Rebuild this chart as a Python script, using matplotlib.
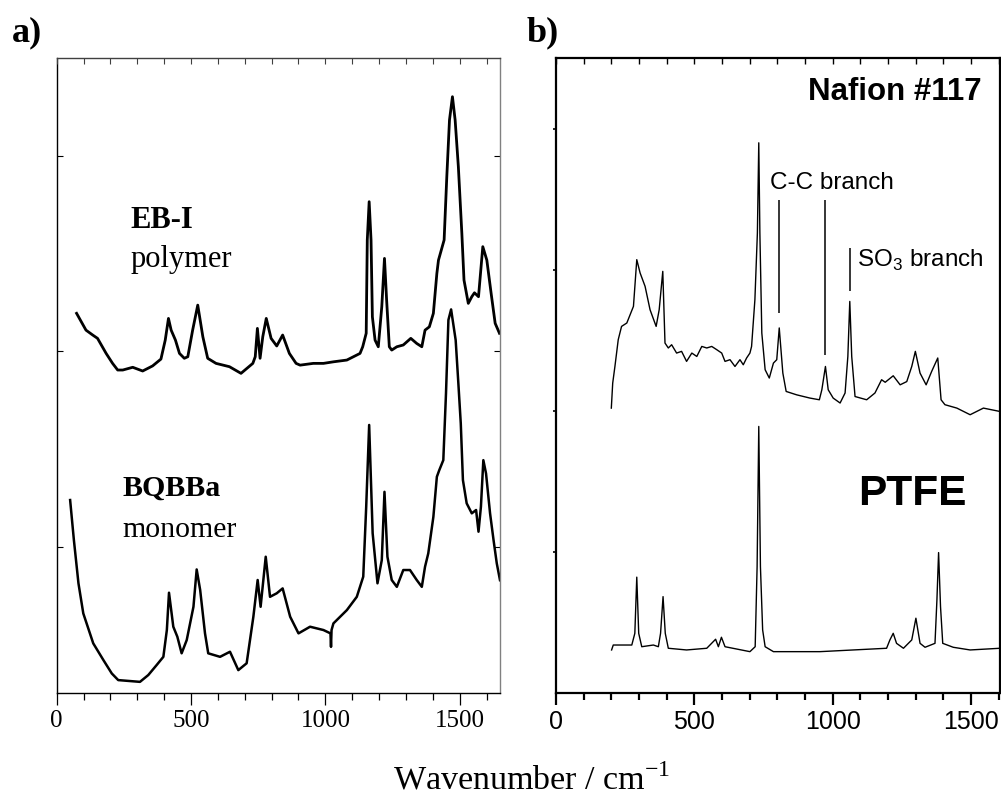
import numpy as np
import matplotlib.pyplot as plt
from matplotlib.ticker import MultipleLocator

# ---- panel a: EB-I polymer (upper trace) ----
wn_ebi = [74, 109, 134, 152, 184, 208, 227, 246, 283, 320, 357, 388, 404, 416, 426,
          442, 457, 475, 488, 506, 525, 544, 562, 593, 643, 686, 730, 739, 747, 757,
          767, 780, 798, 819, 841, 866, 891, 906, 955, 993, 1030, 1080, 1129, 1139,
          1152, 1156, 1163, 1170, 1175, 1185, 1197, 1210, 1220, 1228, 1238, 1247,
          1266, 1290, 1318, 1340, 1359, 1371, 1387, 1402, 1415, 1421, 1442, 1452,
          1462, 1473, 1483, 1495, 1508, 1516, 1532, 1545, 1555, 1570, 1586, 1601,
          1617, 1632, 1648]
int_ebi = [1.194, 1.108, 1.083, 1.066, 0.989, 0.938, 0.904, 0.904, 0.918, 0.899,
           0.925, 0.960, 1.057, 1.168, 1.108, 1.057, 0.989, 0.964, 0.972, 1.108,
           1.236, 1.074, 0.964, 0.938, 0.921, 0.887, 0.938, 0.972, 1.117, 0.964,
           1.074, 1.168, 1.066, 1.027, 1.083, 0.989, 0.938, 0.929, 0.938, 0.938,
           0.946, 0.955, 0.989, 1.023, 1.092, 1.569, 1.765, 1.569, 1.176, 1.057,
           1.023, 1.228, 1.475, 1.262, 1.023, 1.006, 1.023, 1.032, 1.066, 1.040,
           1.023, 1.108, 1.125, 1.194, 1.398, 1.466, 1.569, 1.893, 2.183, 2.302,
           2.183, 1.944, 1.603, 1.364, 1.245, 1.279, 1.299, 1.279, 1.535, 1.466,
           1.296, 1.143, 1.092]

# ---- panel a: BQBBa monomer (lower trace) ----
wn_bqb = [50, 64, 81, 99, 136, 174, 205, 229, 310, 341, 372, 397, 410, 418, 434,
          449, 465, 484, 509, 521, 534, 552, 564, 608, 645, 676, 707, 732, 748, 759,
          778, 794, 819, 841, 869, 900, 943, 993, 1019, 1021, 1023, 1030, 1080,
          1117, 1141, 1152, 1163, 1176, 1194, 1210, 1220, 1231, 1247, 1266, 1290,
          1315, 1340, 1359, 1371, 1383, 1402, 1415, 1424, 1439, 1449, 1458, 1468,
          1485, 1495, 1504, 1512, 1526, 1545, 1561, 1570, 1579, 1588, 1598, 1613,
          1626, 1638, 1650]
int_bqb = [0.239, 0.034, -0.187, -0.341, -0.494, -0.580, -0.648, -0.682, -0.691,
           -0.656, -0.605, -0.563, -0.426, -0.235, -0.409, -0.460, -0.545, -0.477,
           -0.307, -0.116, -0.221, -0.443, -0.545, -0.563, -0.537, -0.631, -0.596,
           -0.358, -0.170, -0.307, -0.051, -0.256, -0.238, -0.213, -0.358, -0.443,
           -0.409, -0.426, -0.443, -0.512, -0.426, -0.392, -0.324, -0.256, -0.153,
           0.205, 0.623, 0.069, -0.187, -0.068, 0.281, -0.051, -0.170, -0.205,
           -0.119, -0.119, -0.170, -0.205, -0.102, -0.034, 0.153, 0.358, 0.392,
           0.443, 0.785, 1.160, 1.214, 1.057, 0.836, 0.631, 0.341, 0.222, 0.171,
           0.188, 0.077, 0.205, 0.443, 0.375, 0.171, 0.034, -0.085, -0.171]

# ---- panel b: Nafion #117 ----
wn_naf = [200, 205, 213, 225, 237, 256, 280, 292, 304, 322, 340, 362, 373, 386, 394,
          406, 418, 436, 454, 472, 491, 509, 527, 545, 563, 581, 599, 611, 629, 647,
          665, 677, 689, 701, 707, 719, 728, 733, 737, 744,
          756, 771, 786, 798, 807, 820, 832, 870, 918, 952, 961, 974, 984, 1002,
          1027, 1045, 1055, 1062, 1069, 1081, 1123, 1153, 1177, 1190, 1219, 1244,
          1268, 1286, 1299, 1316, 1338, 1358, 1380, 1392, 1406, 1449, 1497, 1545,
          1605]
int_naf = [2.019, 2.196, 2.314, 2.504, 2.598, 2.622, 2.740, 3.071, 2.977, 2.882,
           2.716, 2.598, 2.716, 2.988, 2.480,
           2.445, 2.468, 2.409, 2.421, 2.350, 2.409, 2.385, 2.456, 2.445, 2.456,
           2.433, 2.409, 2.350, 2.362, 2.314, 2.362, 2.326, 2.374, 2.409,
           2.456, 2.787, 3.260, 3.899, 3.260, 2.551,
           2.291, 2.232, 2.338, 2.362, 2.587, 2.267, 2.137, 2.113, 2.090, 2.078,
           2.149, 2.314, 2.149, 2.090, 2.055, 2.126, 2.385, 2.775, 2.385, 2.101,
           2.078, 2.126, 2.220, 2.202, 2.248, 2.184, 2.207, 2.314, 2.421, 2.267,
           2.184, 2.279, 2.374, 2.078, 2.043, 2.019, 1.972, 2.019, 1.995]

# ---- panel b: PTFE ----
wn_ptfe = [201, 207, 274, 285, 292, 299, 310, 352, 370, 378, 387, 395, 406, 472, 545,
           577, 587, 598, 611, 701, 720, 727, 733, 739, 747, 756, 786, 954, 1195,
           1207, 1219, 1231, 1256, 1286, 1301, 1316, 1334, 1370, 1377, 1383, 1390,
           1398, 1436, 1497, 1605]
int_ptfe = [0.305, 0.340, 0.340, 0.423, 0.821, 0.423, 0.328, 0.340, 0.328, 0.423,
            0.683, 0.423, 0.317, 0.305, 0.317, 0.381, 0.328, 0.395, 0.328, 0.293,
            0.328, 0.896, 1.889, 0.896, 0.447, 0.328, 0.293, 0.293, 0.317, 0.376,
            0.423, 0.352, 0.317, 0.376, 0.530, 0.352, 0.324, 0.352, 0.660, 0.995,
            0.612, 0.352, 0.324, 0.305, 0.317]

# branch marker lines in panel b: position, top, bottom
mark_x = [807, 974, 1062]
mark_top = [3.496, 3.496, 3.154]
mark_bot = [2.693, 2.397, 2.846]

SERIF = 'Liberation Serif'
SANS = 'Liberation Sans'

fig = plt.figure(figsize=(10.01, 7.98), dpi=100)
ax1 = fig.add_axes([0.05664, 0.13158, 0.44286, 0.79574])
ax2 = fig.add_axes([0.55544, 0.13158, 0.44356, 0.79574])

# ---------------- panel a ----------------
ax1.plot(wn_ebi, int_ebi, color='black', lw=2.0)
ax1.plot(wn_bqb, int_bqb, color='black', lw=1.8)
ax1.set_xlim(0, 1650)
ax1.set_ylim(-0.748, 2.5)
ax1.xaxis.set_major_locator(MultipleLocator(500))
ax1.xaxis.set_minor_locator(MultipleLocator(100))
ax1.set_yticks([0, 1, 2])
ax1.tick_params(axis='x', which='major', direction='out', length=8.5, width=0.9, pad=4)
ax1.tick_params(axis='x', which='minor', direction='out', length=5, width=0.9)
ax1.tick_params(axis='y', direction='in', length=4, width=0.8, left=True, right=True,
                labelleft=False)
for lab in ax1.get_xticklabels():
    lab.set_fontfamily(SERIF)
    lab.set_fontsize(18)
ax1.spines['right'].set_color('#808080')
ax1.spines['top'].set_color('#404040')
for s in ax1.spines.values():
    s.set_linewidth(1.0)

# inward ticks along the top edge
top1 = ax1.twiny()
top1.set_xlim(ax1.get_xlim())
top1.xaxis.set_major_locator(MultipleLocator(100))
top1.tick_params(axis='x', direction='in', length=4, width=0.8, labeltop=False,
                 color='#404040')
for s in top1.spines.values():
    s.set_visible(False)

ax1.text(273, 1.63, 'EB-I', fontfamily=SERIF, fontweight='bold', fontsize=22, va='baseline')
ax1.text(273, 1.431, 'polymer', fontfamily=SERIF, fontsize=22, va='baseline')
ax1.text(246, 0.259, 'BQBBa', fontfamily=SERIF, fontweight='bold', fontsize=21.5, va='baseline')
ax1.text(246, 0.050, 'monomer', fontfamily=SERIF, fontsize=21.5, va='baseline')

# ---------------- panel b ----------------
ax2.plot(wn_naf, int_naf, color='black', lw=1.0)
ax2.plot(wn_ptfe, int_ptfe, color='black', lw=1.0)
ax2.vlines(mark_x, mark_bot, mark_top, color='black', lw=1.1)
ax2.set_xlim(0, 1605)
ax2.set_ylim(0, 4.5)
ax2.xaxis.set_major_locator(MultipleLocator(500))
ax2.xaxis.set_minor_locator(MultipleLocator(100))
ax2.set_yticks([1, 2, 3, 4])
ax2.tick_params(axis='x', which='major', direction='out', length=8.5, width=1.6, pad=4)
ax2.tick_params(axis='x', which='minor', direction='out', length=5, width=1.6)
ax2.tick_params(axis='y', direction='out', length=2.5, width=1.2, labelleft=False)
for lab in ax2.get_xticklabels():
    lab.set_fontfamily(SANS)
    lab.set_fontsize(18)
for s in ax2.spines.values():
    s.set_linewidth(1.6)

top2 = ax2.twiny()
top2.set_xlim(ax2.get_xlim())
top2.xaxis.set_major_locator(MultipleLocator(100))
top2.tick_params(axis='x', direction='in', length=4, width=1.0, labeltop=False)
for s in top2.spines.values():
    s.set_visible(False)

ax2.text(1539, 4.199, 'Nafion #117', fontfamily=SANS, fontweight='bold', fontsize=22.5,
         ha='right', va='baseline')
ax2.text(774, 3.574, 'C-C branch', fontfamily=SANS, fontsize=17.5, va='baseline')
ax2.text(1087, 3.023, r'SO$_\mathregular{3}$ branch', fontfamily=SANS, fontsize=17.5,
         va='baseline')
ax2.text(1485, 1.333, 'PTFE', fontfamily=SANS, fontweight='bold', fontsize=30.5,
         ha='right', va='baseline')

# ---------------- figure labels ----------------
fig.text(11.7 / 1001, 1 - 41 / 798, 'a)', fontfamily=SERIF, fontweight='bold', fontsize=26,
         va='baseline')
fig.text(527 / 1001, 1 - 41 / 798, 'b)', fontfamily=SERIF, fontweight='bold', fontsize=26,
         va='baseline')
fig.text(532 / 1001, 8 / 798, r'Wavenumber / cm$^\mathregular{-1}$', fontfamily=SERIF,
         fontsize=24.5, ha='center', va='baseline')

fig.savefig('out.png', dpi=100)
